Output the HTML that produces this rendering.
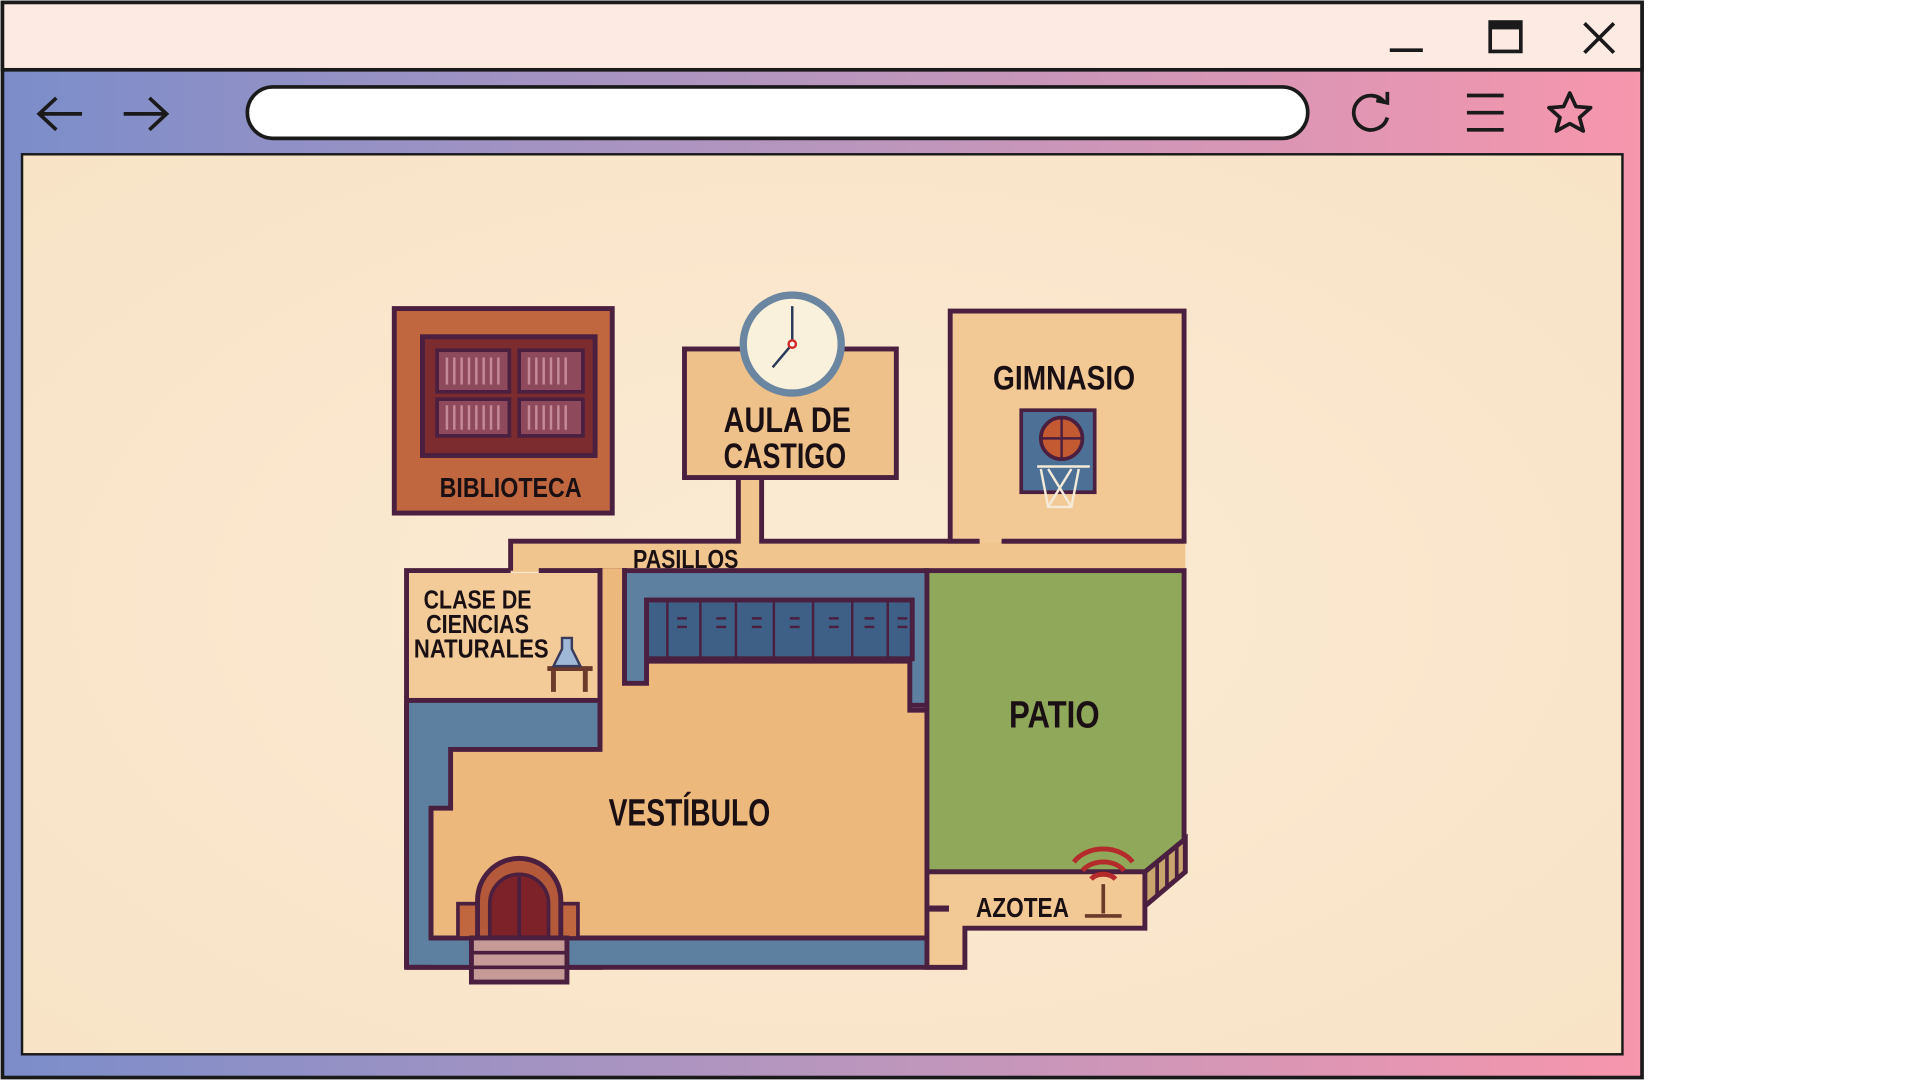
<!DOCTYPE html>
<html><head><meta charset="utf-8"><style>
html,body{margin:0;padding:0;width:1920px;height:1080px;overflow:hidden;background:#fff}
svg{display:block}
text{font-family:"Liberation Sans",sans-serif;font-weight:bold;fill:#1a1014}
</style></head><body>
<svg width="1920" height="1080" viewBox="0 0 1568 882" preserveAspectRatio="none" xmlns="http://www.w3.org/2000/svg">
<defs>
<linearGradient id="g" x1="0" x2="1" y1="0" y2="0">
<stop offset="0" stop-color="#7b8dca"/><stop offset="0.5" stop-color="#b896be"/><stop offset="1" stop-color="#f796ad"/>
</linearGradient>
<radialGradient id="bg" cx="0.5" cy="0.5" r="0.7"><stop offset="0" stop-color="#fbebd4"/><stop offset="1" stop-color="#f8e3c6"/></radialGradient>
</defs>
<rect x="2" y="2" width="1339" height="878" fill="url(#g)" stroke="#1a1a1a" stroke-width="3"/>
<rect x="2" y="2" width="1339" height="55" fill="#fdebe3" stroke="#1a1a1a" stroke-width="3"/>
<line x1="1135" y1="41" x2="1162" y2="41" stroke="#1a1a1a" stroke-width="3"/>
<rect x="1217" y="18" width="25" height="24" fill="none" stroke="#1a1a1a" stroke-width="3"/>
<rect x="1217" y="18" width="25" height="6" fill="#1a1a1a"/>
<path d="M1294 19 L1318 43 M1318 19 L1294 43" stroke="#1a1a1a" stroke-width="3"/>
<rect x="202" y="71" width="866" height="42" rx="21" fill="#fff" stroke="#1a1a1a" stroke-width="3"/>
<path d="M67 93 H32 M46 80 L32 93 L46 106" fill="none" stroke="#1a1a1a" stroke-width="3"/>
<path d="M101 93 H136 M122 80 L136 93 L122 106" fill="none" stroke="#1a1a1a" stroke-width="3"/>
<path d="M1131 84 A14 14 0 1 0 1133 96" fill="none" stroke="#1a1a1a" stroke-width="3"/>
<path d="M1124 82 L1133 84 L1133 75" fill="none" stroke="#1a1a1a" stroke-width="3"/>
<path d="M1198 78 H1228 M1198 92 H1228 M1198 106 H1228" stroke="#1a1a1a" stroke-width="3"/>
<path d="M1282 76 L1287 87 L1299 88 L1290 96 L1293 107 L1282 101 L1271 107 L1274 96 L1265 88 L1277 87 Z" fill="none" stroke="#1a1a1a" stroke-width="3" stroke-linejoin="round"/>
<rect x="18" y="126" width="1307" height="735" fill="url(#bg)" stroke="#1a1a1a" stroke-width="2"/>

<g stroke="#4b1f3f" stroke-width="4" stroke-linejoin="miter">
<rect x="417" y="442" width="551" height="25" fill="#f1c58e" stroke="none"/>
<rect x="603" y="388" width="19" height="56" fill="#f1c58e" stroke="none"/>
<path d="M417 466 V442 H603 V388 M622 388 V442 H800 M818 442 H967" fill="none"/>
<rect x="332" y="570" width="158" height="220" fill="#5d7fa0"/>
<rect x="510" y="466" width="247" height="110" fill="#5d7fa0"/>
<rect x="352" y="740" width="405" height="50" fill="#5d7fa0" stroke="none"/>
<path d="M332 790 H788" fill="none"/>
<path d="M352 660 H368 V612 H490 V466 H510 V558 H528 V540 H743 V580 H757 V766 H352 Z" fill="#ecb87c"/>
<rect x="492" y="464" width="16" height="20" fill="#ecb87c" stroke="none"/>
<rect x="528" y="490" width="217" height="48" fill="#3e5f86"/>
<g stroke-width="2"><path d="M545 490V538 M572 490V538 M601 490V538 M632 490V538 M664 490V538 M696 490V538 M725 490V538"/>
<path d="M553 505h8 M553 512h8 M585 505h8 M585 512h8 M614 505h8 M614 512h8 M645 505h8 M645 512h8 M677 505h8 M677 512h8 M706 505h8 M706 512h8 M733 505h8 M733 512h8"/></g>
<rect x="334" y="468" width="154" height="102" fill="#f2cb98" stroke="none"/>
<path d="M332 570 V466 H417 M440 466 H490 V612 M332 572 H490" fill="none"/>
<rect x="757" y="466" width="210" height="246" fill="#8fa85a"/>
<path d="M935 712 L968 685 V712 L935 740 Z" fill="#c9a56e" stroke-width="3"/>
<path d="M945 704v28 M953 697v28 M961 691v26" stroke-width="3"/>
<path d="M757 712 H935 V758 H788 V790 H757 Z" fill="#f2c995"/>
<path d="M935 712 L968 685 V712 L935 740" fill="none"/>
<path d="M757 742 H775" stroke-width="5"/>
<path d="M332 572 V790" fill="none"/>
<path d="M352 660 V766 H757" fill="none"/>
<rect x="322" y="252" width="178" height="167" fill="#c0673f"/>
<rect x="345" y="275" width="141" height="97" fill="#7c2c2f"/>
<g fill="#8e4a5c" stroke-width="3"><rect x="357" y="286" width="59" height="34"/><rect x="424" y="286" width="52" height="34"/><rect x="357" y="326" width="59" height="30"/><rect x="424" y="326" width="52" height="30"/></g>
<g stroke="#c48a9a" stroke-width="2"><path d="M365 292v22M371 292v22M377 292v22M383 292v22M389 292v22M395 292v22M401 292v22M407 292v22M432 292v22M438 292v22M444 292v22M450 292v22M456 292v22M462 292v22M365 331v20M371 331v20M377 331v20M383 331v20M389 331v20M395 331v20M401 331v20M407 331v20M432 331v20M438 331v20M444 331v20M450 331v20M456 331v20M462 331v20"/></g>
<rect x="559" y="285" width="173" height="105" fill="#efc18a"/>
<circle cx="647" cy="281" r="40" fill="#f9f1dc" stroke="#6a86a0" stroke-width="6"/>
<path d="M647 281 V250 M647 281 L631 300" stroke="#2a3a5a" stroke-width="2"/>
<circle cx="647" cy="281" r="3" fill="#fff" stroke="#d02a2a" stroke-width="2"/>
<path d="M800 442 H776 V254 H967 V442 H818" fill="#f2c995"/>
<rect x="834" y="335" width="60" height="67" fill="#4d7096" stroke-width="3"/>
<circle cx="867" cy="358" r="17" fill="#c45a32" stroke-width="3"/>
<path d="M867 341 V375 M850 358 H884" stroke-width="2" fill="none"/>
<path d="M847 381 H890 M850 383 L856 414 H875 L881 383 M856 383 L875 414 M875 383 L856 414" fill="none" stroke="#f3ead8" stroke-width="2"/>
<rect x="374" y="738" width="98" height="28" fill="#c0673f" stroke-width="3"/>
<path d="M390 766 V735 A34 34 0 0 1 458 735 V766 Z" fill="#b45a3a"/>
<path d="M400 766 V738 A24 24 0 0 1 448 738 V766 Z" fill="#7c2228" stroke-width="3"/>
<path d="M424 716 V766" stroke-width="3"/>
<rect x="385" y="766" width="78" height="36" fill="#c69a96"/>
<path d="M385 778 H463 M385 790 H463" stroke-width="3"/>
<path d="M447 546 H484 M452 548 V565 M478 548 V565" stroke="#6b3a2a" stroke-width="4"/>
<path d="M459 521 H467 V530 L474 544 H452 L459 530 Z" fill="#9fb8d8" stroke="#3a3a5a" stroke-width="2"/>
</g>
<g fill="none" stroke="#b52a2a" stroke-width="4"><path d="M877 704 A28 22 0 0 1 925 704"/><path d="M884 711 A20 15 0 0 1 918 711"/><path d="M891 718 A12 9 0 0 1 911 718"/></g>
<path d="M901 722 V746 M886 748 H916" stroke="#6b3a2a" stroke-width="3"/>

<text x="417" y="406" font-size="23" text-anchor="middle" textLength="116" lengthAdjust="spacingAndGlyphs">BIBLIOTECA</text>
<text x="643" y="353" font-size="29" text-anchor="middle" textLength="104" lengthAdjust="spacingAndGlyphs">AULA DE</text>
<text x="641" y="382" font-size="29" text-anchor="middle" textLength="100" lengthAdjust="spacingAndGlyphs">CASTIGO</text>
<text x="869" y="318" font-size="28" text-anchor="middle" textLength="116" lengthAdjust="spacingAndGlyphs">GIMNASIO</text>
<text x="560" y="464" font-size="21" text-anchor="middle" textLength="86" lengthAdjust="spacingAndGlyphs">PASILLOS</text>
<text x="390" y="497" font-size="21" text-anchor="middle" textLength="88" lengthAdjust="spacingAndGlyphs">CLASE DE</text>
<text x="390" y="517" font-size="21" text-anchor="middle" textLength="84" lengthAdjust="spacingAndGlyphs">CIENCIAS</text>
<text x="393" y="537" font-size="21" text-anchor="middle" textLength="110" lengthAdjust="spacingAndGlyphs">NATURALES</text>
<text x="861" y="594" font-size="31" text-anchor="middle" textLength="74" lengthAdjust="spacingAndGlyphs">PATIO</text>
<text x="563" y="674" font-size="31" text-anchor="middle" textLength="132" lengthAdjust="spacingAndGlyphs">VESTÍBULO</text>
<text x="835" y="749" font-size="23" text-anchor="middle" textLength="76" lengthAdjust="spacingAndGlyphs">AZOTEA</text>
</svg>
</body></html>
